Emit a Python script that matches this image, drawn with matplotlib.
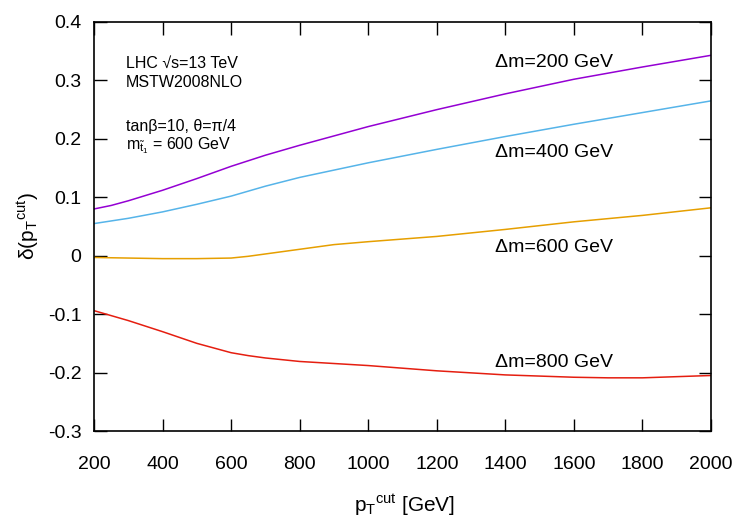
import numpy as np
import matplotlib
matplotlib.use('Agg')
import matplotlib.pyplot as plt

plt.rcParams['font.family'] = ['Liberation Sans', 'DejaVu Sans']
plt.rcParams['mathtext.fontset'] = 'custom'
plt.rcParams['mathtext.rm'] = 'Liberation Sans'
plt.rcParams['mathtext.it'] = 'Liberation Sans'
plt.rcParams['mathtext.default'] = 'regular'

# 数据：近似值
pt_200 = [200, 250, 300, 400, 500, 600, 700, 800, 1000, 1200, 1400, 1600, 1800, 2000]
dm200 = [0.080, 0.086, 0.094, 0.112, 0.132, 0.153, 0.172, 0.189, 0.221, 0.250, 0.277, 0.302, 0.323, 0.343]

pt_400 = [200, 300, 400, 500, 600, 700, 800, 1000, 1200, 1400, 1600, 1800, 2000]
dm400 = [0.055, 0.064, 0.075, 0.088, 0.102, 0.119, 0.134, 0.159, 0.182, 0.204, 0.225, 0.245, 0.265]

pt_600 = [200, 300, 400, 500, 600, 650, 700, 750, 800, 900, 1000, 1200, 1400, 1600, 1800, 2000]
dm600 = [-0.003, -0.004, -0.005, -0.005, -0.004, -0.001, 0.003, 0.007, 0.011, 0.019, 0.024, 0.033, 0.045, 0.058, 0.069, 0.082]

pt_800 = [200, 300, 400, 500, 600, 650, 700, 800, 1000, 1200, 1400, 1600, 1700, 1800, 2000]
dm800 = [-0.094, -0.111, -0.130, -0.150, -0.166, -0.171, -0.175, -0.181, -0.188, -0.197, -0.204, -0.208, -0.209, -0.209, -0.205]

labels = ['Δm=200 GeV', 'Δm=400 GeV', 'Δm=600 GeV', 'Δm=800 GeV']
label_y = [0.330, 0.176, 0.014, -0.182]
colors = ['#9400d3', '#56b4e9', '#e69f00', '#e51e10']

fig = plt.figure(figsize=(7.39, 5.18), dpi=100)
ax = fig.add_axes([94 / 739, 87 / 518, 617 / 739, 409 / 518])

for x, y, c in zip([pt_200, pt_400, pt_600, pt_800], [dm200, dm400, dm600, dm800], colors):
    ax.plot(x, y, color=c, linewidth=1.1)

for lab, ly in zip(labels, label_y):
    ax.text(1370, ly, lab, fontsize=14, va='center', ha='left')

ax.text(293, 0.330, 'LHC √s=13 TeV', fontsize=11.5, va='center')
ax.text(293, 0.296, 'MSTW2008NLO', fontsize=11.5, va='center')
ax.text(293, 0.222, 'tanβ=10, θ=π/4', fontsize=11.5, va='center')
ax.text(293, 0.188, r'm$_{\tilde{t}_1}$ = 600 GeV', fontsize=11.5, va='center')

ax.set_xlim(200, 2000)
ax.set_ylim(-0.3, 0.4)
ax.set_xticks(np.arange(200, 2001, 200))
ax.set_yticks(np.round(np.arange(-0.3, 0.41, 0.1), 1))
ax.set_yticklabels(['-0.3', '-0.2', '-0.1', '0', '0.1', '0.2', '0.3', '0.4'])
ax.tick_params(direction='in', top=True, right=True, length=9, width=1, labelsize=14)
ax.tick_params(axis='x', pad=18)
ax.tick_params(axis='y', pad=9)
for s in ax.spines.values():
    s.set_linewidth(1.2)

ax.set_xlabel(r'p$_T$$^{cut}$ [GeV]', fontsize=15)
ax.set_ylabel(r'δ(p$_T$$^{cut}$)', fontsize=15)
ax.xaxis.set_label_coords(0.503, -(505 - 431) / 409)
ax.xaxis.label.set_va('center')
ax.yaxis.set_label_coords(-(94 - 28) / 617, 0.5)
ax.yaxis.label.set_va('center')

fig.savefig('out.png', dpi=100)
